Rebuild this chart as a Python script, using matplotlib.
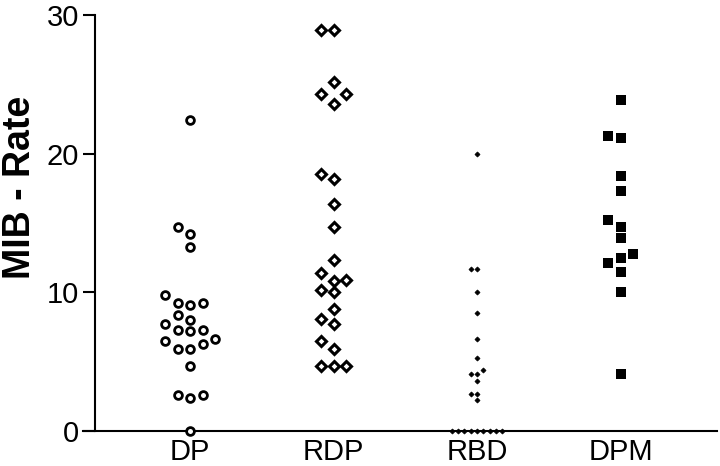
import matplotlib
matplotlib.use('Agg')
import matplotlib.pyplot as plt

plt.rcParams['font.family'] = ['Liberation Sans', 'DejaVu Sans']

# Данные (MIB - Rate по группам)
groups = ['DP', 'RDP', 'RBD', 'DPM']
dp = [22.4, 14.7, 14.2, 13.3, 9.8, 9.2, 9.2, 9.1, 8.4, 8.0, 7.7, 7.3, 7.3, 7.2,
      6.6, 6.5, 6.3, 5.9, 5.9, 4.7, 2.6, 2.6, 2.4, 0.0]
rdp = [28.9, 28.9, 25.2, 24.3, 24.3, 23.6, 18.5, 18.2, 16.4, 14.7, 12.3, 11.4,
       10.9, 10.8, 10.2, 10.0, 8.8, 8.1, 7.7, 6.5, 5.9, 4.7, 4.7, 4.7]
rbd = [20.0, 11.7, 11.7, 10.0, 8.5, 6.6, 5.3, 4.4, 4.1, 4.1, 3.6, 2.7, 2.7, 2.2,
       0, 0, 0, 0, 0, 0, 0, 0, 0]
dpm = [23.9, 21.3, 21.1, 18.4, 17.3, 15.2, 14.7, 13.9, 12.8, 12.5, 12.1, 11.5,
       10.0, 4.1]
yticks = [0, 10, 20, 30]


def swarm(values, step, gap):
    # простой "beeswarm": точки с близкими значениями раздвигаем по горизонтали
    placed = []
    offs = [0.0] * len(values)
    for i in sorted(range(len(values)), key=lambda j: values[j]):
        v = values[i]
        k = 0
        slot = None
        while slot is None:
            for s in ([0] if k == 0 else [-k, k]):
                if all(not (ps == s and abs(v - pv) < gap) for ps, pv in placed):
                    slot = s
                    break
            k += 1
        placed.append((slot, v))
        offs[i] = slot * step
    return offs


fig = plt.figure(figsize=(7.2, 4.66), dpi=100)
ax = fig.add_axes([83 / 720, 1 - 431 / 466, 634 / 720, 416 / 466])

styles = [
    (dp, dict(marker='o', ms=5.6, mfc='white', mec='black', mew=2.0), 0.087, 0.75),
    (rdp, dict(marker='D', ms=4.6, mfc='white', mec='black', mew=2.2), 0.087, 0.75),
    (rbd, dict(marker='D', ms=2.6, mfc='black', mec='black', mew=0.5), 0.044, 0.45),
    (dpm, dict(marker='s', ms=7.2, mfc='black', mec='black', mew=0.0), 0.087, 0.75),
]
for i, (vals, st, step, gap) in enumerate(styles):
    offs = swarm(vals, step, gap)
    xs = [i + o for o in offs]
    ax.plot(xs, vals, ls='none', clip_on=False, zorder=5, **st)

ax.set_xlim(-0.746, 3.672)
ax.set_ylim(0, 30)
ax.set_xticks(range(len(groups)))
ax.set_xticklabels(groups)
ax.set_yticks(yticks)

for s in ['top', 'right']:
    ax.spines[s].set_visible(False)
ax.spines['left'].set_position(('data', -0.662))
ax.spines['left'].set_linewidth(1.5)
ax.spines['bottom'].set_linewidth(1.5)

ax.tick_params(axis='y', length=8.6, width=1.5, labelsize=21, pad=3)
ax.tick_params(axis='x', length=0, labelsize=21, pad=5)

ax.set_ylabel('MIB - Rate', fontsize=27, fontweight='bold', ha='center', va='top')
ax.yaxis.set_label_coords(-0.128, 0.585)

fig.savefig('out.png', dpi=100)
